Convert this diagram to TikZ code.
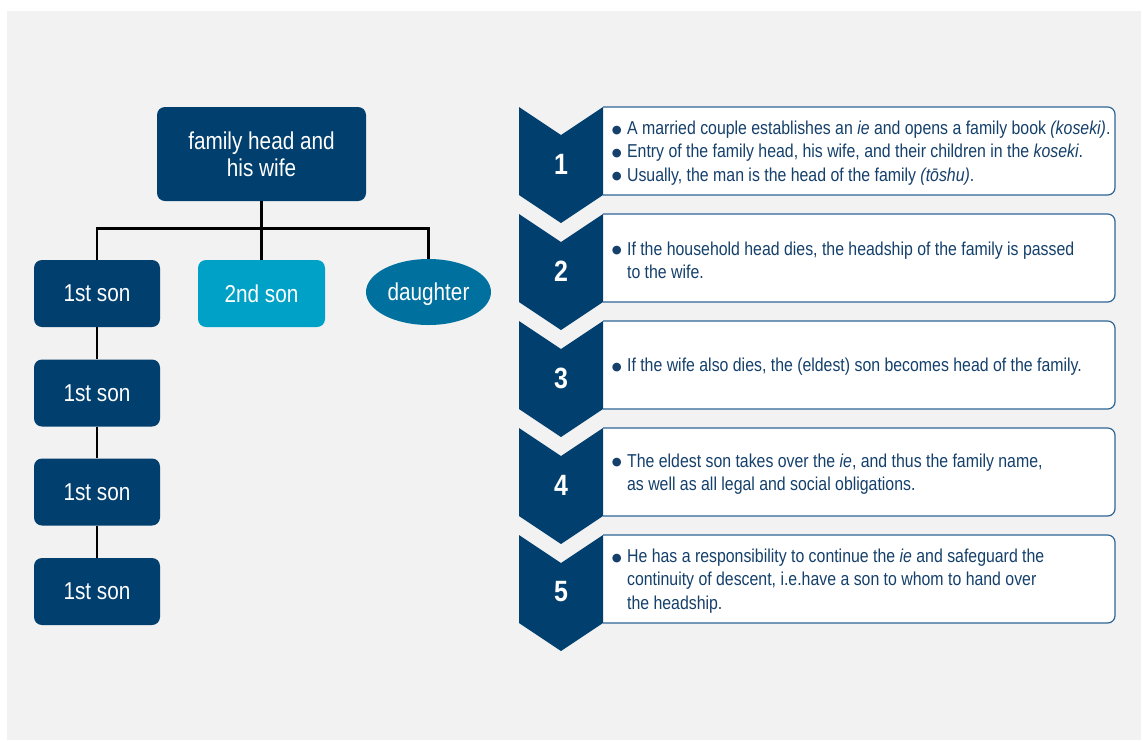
\documentclass[tikz,border=0pt]{standalone}
\usepackage{fontspec}
\setmainfont{Liberation Sans}[FakeStretch=0.85]
\newfontfamily\symf{DejaVu Sans}
\usetikzlibrary{shapes.geometric}
\definecolor{navy}{HTML}{013F6E}
\definecolor{cyanb}{HTML}{00A1C6}
\definecolor{midb}{HTML}{00709F}
\definecolor{panel}{HTML}{F2F2F2}
\definecolor{bord}{HTML}{2E6596}
\definecolor{txt}{HTML}{15406B}
\tikzset{
  treebox/.style={rectangle, rounded corners=6pt, fill=navy, text=white, font=\fontsize{18.3}{20}\selectfont, align=center, inner sep=0pt},
  sonbox/.style={treebox, minimum width=94.5pt, minimum height=50.25pt},
  conn/.style={line width=1.9pt, black},
  chev/.style={fill=navy},
  numtxt/.style={text=white, font=\fontsize{22}{24}\selectfont\bfseries},
  infobox/.style={fill=white, draw=bord, line width=0.9pt, rounded corners=5.5pt},
  infotxt/.style={anchor=west, text=txt, font=\fontsize{14}{17.4}\selectfont, inner sep=0pt, align=left}
}
\newcommand{\bul}{\makebox[11.5pt][l]{\raisebox{1.2pt}{\symf\fontsize{8.5}{8.5}\selectfont ●}}}
\begin{document}
\begin{tikzpicture}[x=0.75pt,y=-0.75pt]
\useasboundingbox (0,0) rectangle (1143,740);
\fill[white] (0,0) rectangle (1143,740);
\fill[panel] (7,11) rectangle (1141,740);

% tree
\node[treebox, minimum width=156.75pt, minimum height=70.5pt] (head) at (261.5,154) {family head and\\his wife};
\node[sonbox] (s1) at (97,293.5) {1st son};
\node[sonbox, fill=cyanb, minimum width=95.25pt] (s2) at (261.5,293.5) {2nd son};
\node[ellipse, fill=midb, text=white, font=\fontsize{18.3}{20}\selectfont, inner sep=0pt, minimum width=93.75pt, minimum height=49.5pt] (dau) at (428.5,292) {\raisebox{-1.8pt}[\height][\depth]{daughter}};
\node[sonbox] (s1b) at (97,393) {1st son};
\node[sonbox] (s1c) at (97,492) {1st son};
\node[sonbox] (s1d) at (97,591.5) {1st son};
\coordinate (bar) at (261.5,228.5);
\draw[conn] (head.south) -- (s2.north);
\draw[conn] (s1.north) |- (bar) -| (dau.north);
\draw[conn] (s1.south) -- (s1b.north);
\draw[conn] (s1b.south) -- (s1c.north);
\draw[conn] (s1c.south) -- (s1d.north);

% steps
\foreach \k/\t in {1/{\bul A married couple establishes an \textit{ie} and opens a family book \textit{(koseki)}.\\\bul Entry of the family head, his wife, and their children in the \textit{koseki}.\\\bul Usually, the man is the head of the family \textit{(tōshu)}.},
  2/{\bul If the household head dies, the headship of the family is passed\\\hspace*{11.5pt}to the wife.},
  3/{\bul If the wife also dies, the (eldest) son becomes head of the family.},
  4/{\bul The eldest son takes over the \textit{ie}, and thus the family name,\\\hspace*{11.5pt}as well as all legal and social obligations.},
  5/{\bul He has a responsibility to continue the \textit{ie} and safeguard the\\\hspace*{11.5pt}continuity of descent, i.e.have a son to whom to hand over\\\hspace*{11.5pt}the headship.}}{
  \pgfmathsetmacro{\yt}{107+(\k-1)*107}
  \filldraw[infobox] (603,\yt) -- (1115,\yt) -- (1115,\yt+88) -- (603,\yt+88);
  \fill[chev] (519,\yt) -- (561,\yt+28) -- (603,\yt) -- (603,\yt+88) -- (561,\yt+116) -- (519,\yt+88) -- cycle;
  \node[numtxt] (n\k) at (561,\yt+57) {\k};
  \node[infotxt] (t\k) at (611.5,\yt+46) {\t};
}
\end{tikzpicture}
\end{document}
